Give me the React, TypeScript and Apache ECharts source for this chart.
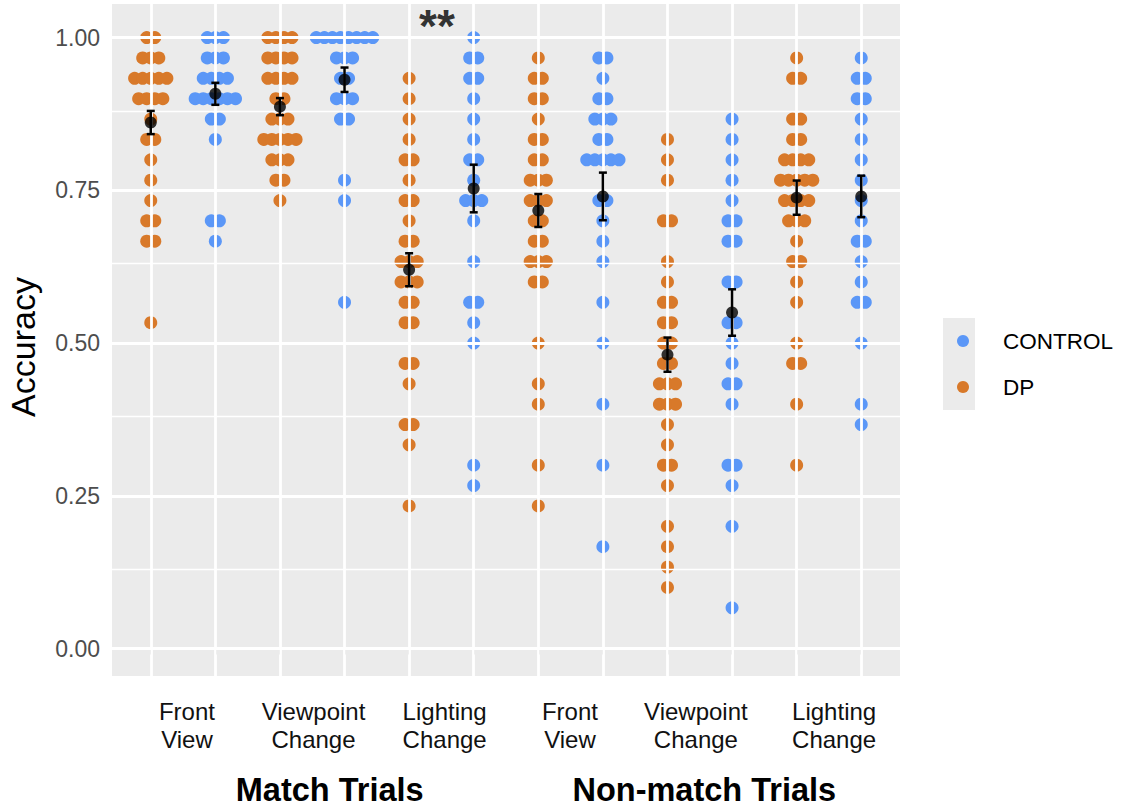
import React, { useEffect, useRef } from 'react';
import * as echarts from 'echarts';

// Each value = number of correct trials out of TRIALS
const TRIALS = 30;
const categories = ['Front\nView', 'Viewpoint\nChange', 'Lighting\nChange', 'Front\nView', 'Viewpoint\nChange', 'Lighting\nChange'];
const categoryLabelPos = [0.56, 2.52, 4.55, 6.49, 8.44, 10.58];
const trialGroups = ['Match Trials', 'Non-match Trials'];
const groupLabelPos = [2.77, 8.57];
const yTicks = [0, 0.25, 0.5, 0.75, 1];
const yMinor = [0.125, 0.375, 0.625, 0.875];

const dpMatchFront = [30, 30, 29, 29, 29, 28, 28, 28, 28, 28, 27, 27, 27, 27, 26, 25, 25, 24, 23, 22, 21, 21, 20, 20, 16];
const ctrlMatchFront = [30, 30, 30, 29, 29, 29, 28, 28, 28, 28, 27, 27, 27, 27, 27, 27, 26, 26, 25, 21, 21, 20];
const dpMatchView = [30, 30, 30, 30, 29, 29, 29, 29, 28, 28, 28, 28, 27, 27, 26, 26, 26, 25, 25, 25, 25, 25, 24, 24, 24, 23, 23, 22];
const ctrlMatchView = [30, 30, 30, 30, 30, 30, 30, 30, 29, 29, 29, 28, 28, 27, 27, 27, 26, 26, 23, 22, 17];
const dpMatchLight = [28, 27, 26, 25, 24, 24, 23, 22, 22, 21, 20, 20, 19, 19, 19, 18, 18, 18, 17, 17, 16, 16, 14, 14, 13, 11, 11, 10, 7];
const ctrlMatchLight = [30, 29, 29, 28, 28, 27, 26, 25, 24, 24, 23, 22, 22, 22, 21, 19, 17, 17, 16, 15, 9, 8];
const dpNonFront = [29, 28, 28, 27, 27, 26, 25, 25, 24, 24, 23, 23, 23, 22, 22, 22, 21, 21, 20, 20, 19, 19, 19, 18, 18, 15, 13, 12, 9, 7];
const ctrlNonFront = [29, 29, 28, 27, 27, 26, 26, 26, 25, 25, 24, 24, 24, 24, 24, 22, 22, 21, 20, 19, 17, 15, 12, 9, 5];
const dpNonView = [25, 24, 23, 21, 21, 19, 18, 17, 17, 16, 16, 15, 15, 14, 14, 13, 13, 13, 12, 12, 12, 11, 10, 9, 9, 8, 6, 5, 4, 3];
const ctrlNonView = [26, 25, 24, 23, 22, 21, 21, 20, 20, 18, 18, 16, 16, 15, 14, 13, 13, 12, 9, 9, 8, 6, 2];
const dpNonLight = [29, 28, 28, 26, 26, 25, 25, 24, 24, 24, 24, 23, 23, 23, 23, 23, 22, 22, 22, 22, 21, 21, 21, 20, 19, 19, 18, 17, 15, 14, 14, 12, 9];
const ctrlNonLight = [29, 28, 28, 27, 27, 26, 25, 24, 23, 22, 21, 20, 20, 19, 18, 17, 17, 15, 12, 11];

const dpData = [dpMatchFront, dpMatchView, dpMatchLight, dpNonFront, dpNonView, dpNonLight];
const ctrlData = [ctrlMatchFront, ctrlMatchView, ctrlMatchLight, ctrlNonFront, ctrlNonView, ctrlNonLight];

// group means and standard errors
const dpMeans = [0.861, 0.887, 0.62, 0.717, 0.481, 0.738];
const dpSE = [0.019, 0.014, 0.027, 0.027, 0.028, 0.028];
const ctrlMeans = [0.908, 0.931, 0.753, 0.74, 0.55, 0.74];
const ctrlSE = [0.018, 0.02, 0.039, 0.039, 0.038, 0.034];

const DP_COLOR = '#D8792A';
const CTRL_COLOR = '#5B97F7';
const FONT = '"Liberation Sans", Arial, Helvetica, sans-serif';
const STEP = 0.125;

function spread(counts: number[], center: number): number[][] {
  const byLevel = new Map<number, number>();
  counts.forEach((k) => byLevel.set(k, (byLevel.get(k) || 0) + 1));
  const pts: number[][] = [];
  byLevel.forEach((n, k) => {
    for (let i = 0; i < n; i++) pts.push([center + (i - (n - 1) / 2) * STEP, k / TRIALS]);
  });
  return pts;
}

function nearestIndex(list: number[], v: number): number {
  let best = 0;
  list.forEach((p, i) => {
    if (Math.abs(p - v) < Math.abs(list[best] - v)) best = i;
  });
  return best;
}

export default function App() {
  const ref = useRef<HTMLDivElement>(null);
  useEffect(() => {
    if (!ref.current) return;
    const chart = echarts.init(ref.current, null, { renderer: 'svg' });
    const positions = Array.from({ length: 12 }, (_, i) => i);

    const dpPoints: number[][] = [];
    const ctrlPoints: number[][] = [];
    dpData.forEach((arr, i) => dpPoints.push(...spread(arr, 2 * i)));
    ctrlData.forEach((arr, i) => ctrlPoints.push(...spread(arr, 2 * i + 1)));

    const summary: number[][] = [];
    dpMeans.forEach((m, i) => summary.push([2 * i, m, dpSE[i]]));
    ctrlMeans.forEach((m, i) => summary.push([2 * i + 1, m, ctrlSE[i]]));

    const option: any = {
      animation: false,
      backgroundColor: '#ffffff',
      textStyle: { fontFamily: FONT },
      grid: {
        left: 112, right: 223, top: 4, bottom: 131,
        containLabel: false, outerBoundsMode: 'none',
        show: true, backgroundColor: '#EBEBEB', borderWidth: 0,
      },
      legend: {
        orient: 'vertical', left: 952, top: 324,
        data: ['CONTROL', 'DP'],
        icon: 'circle', itemWidth: 12, itemHeight: 12, itemGap: 22,
        textStyle: { fontSize: 22.5, lineHeight: 24, color: '#000', fontFamily: FONT, padding: [0, 0, 0, 29] },
      },
      graphic: [
        { type: 'rect', left: 943, top: 318, shape: { width: 32, height: 92 }, style: { fill: '#EBEBEB' }, z: -1 },
      ],
      xAxis: [
        {
          type: 'value', min: -0.6, max: 11.6,
          axisLine: { show: false },
          axisTick: { show: true, customValues: positions, length: 6, lineStyle: { color: '#333', width: 1.5 } },
          axisLabel: {
            customValues: categoryLabelPos,
            formatter: (v: number) => categories[nearestIndex(categoryLabelPos, v)],
            fontSize: 24, lineHeight: 28, color: '#111', margin: 21, fontFamily: FONT,
          },
          splitLine: { show: false },
        },
        {
          type: 'value', min: -0.6, max: 11.6, position: 'bottom',
          axisLine: { show: false }, axisTick: { show: false }, splitLine: { show: false },
          axisLabel: {
            customValues: groupLabelPos,
            formatter: (v: number) => trialGroups[nearestIndex(groupLabelPos, v)],
            fontSize: 32.5, fontWeight: 'bold', color: '#000', margin: 97, fontFamily: FONT,
          },
        },
      ],
      yAxis: {
        type: 'value', min: -0.045, max: 1.055,
        axisLine: { show: false },
        axisTick: { show: true, customValues: yTicks, length: 5, lineStyle: { color: '#333', width: 1.5 } },
        axisLabel: {
          customValues: yTicks, formatter: (v: number) => v.toFixed(2),
          fontSize: 23, color: '#4D4D4D', margin: 12, fontFamily: FONT,
        },
        splitLine: { show: false },
        name: 'Accuracy', nameLocation: 'middle', nameGap: 72,
        nameTextStyle: { fontSize: 34, color: '#000', fontFamily: FONT, padding: [0, 14, 0, 0] },
      },
      series: [
        {
          type: 'scatter', name: 'grid', data: [], symbolSize: 0, silent: true, z: 1,
          markLine: {
            silent: true, symbol: ['none', 'none'], label: { show: false },
            lineStyle: { color: '#FFFFFF', type: 'solid' },
            data: [
              ...yMinor.map((v) => ({ yAxis: v, lineStyle: { width: 1.4, color: '#FFFFFF', type: 'solid' } })),
              ...yTicks.map((v) => ({ yAxis: v, lineStyle: { width: 2.8, color: '#FFFFFF', type: 'solid' } })),
              ...positions.map((v) => ({ xAxis: v, lineStyle: { width: 2.8, color: '#FFFFFF', type: 'solid' } })),
            ],
          },
        },
        {
          type: 'scatter', name: 'CONTROL', data: ctrlPoints, symbolSize: 13, z: 3, clip: false,
          itemStyle: { color: CTRL_COLOR, opacity: 1 },
        },
        {
          type: 'scatter', name: 'DP', data: dpPoints, symbolSize: 13, z: 3, clip: false,
          itemStyle: { color: DP_COLOR, opacity: 1 },
        },
        {
          type: 'scatter', name: 'mean', data: summary.map((d) => [d[0], d[1]]), symbolSize: 12, z: 5,
          itemStyle: { color: '#000' },
        },
        {
          type: 'custom', name: 'se', data: summary, z: 6,
          encode: { x: 0, y: 1 },
          renderItem: (params: any, api: any) => {
            const x = api.value(0);
            const m = api.value(1);
            const s = api.value(2);
            const top = api.coord([x, m + s]);
            const bot = api.coord([x, m - s]);
            const hw = 4;
            const st = { stroke: '#000', lineWidth: 2.5 };
            return {
              type: 'group',
              children: [
                { type: 'line', shape: { x1: top[0], y1: top[1], x2: bot[0], y2: bot[1] }, style: st },
                { type: 'line', shape: { x1: top[0] - hw, y1: top[1], x2: top[0] + hw, y2: top[1] }, style: st },
                { type: 'line', shape: { x1: bot[0] - hw, y1: bot[1], x2: bot[0] + hw, y2: bot[1] }, style: st },
              ],
            };
          },
        },
        {
          type: 'scatter', name: 'sig', data: [[4.43, 1.0185]], symbolSize: 0, z: 6, clip: false, silent: true,
          label: {
            show: true, position: 'inside', formatter: '**',
            fontSize: 46, lineHeight: 40, fontWeight: 'bold', color: '#000', fontFamily: FONT,
          },
        },
      ],
    };
    chart.setOption(option);
    return () => chart.dispose();
  }, []);
  return <div ref={ref} style={{ position: 'absolute', left: 0, top: 0, width: 1123, height: 807, background: '#fff' }} />;
}
